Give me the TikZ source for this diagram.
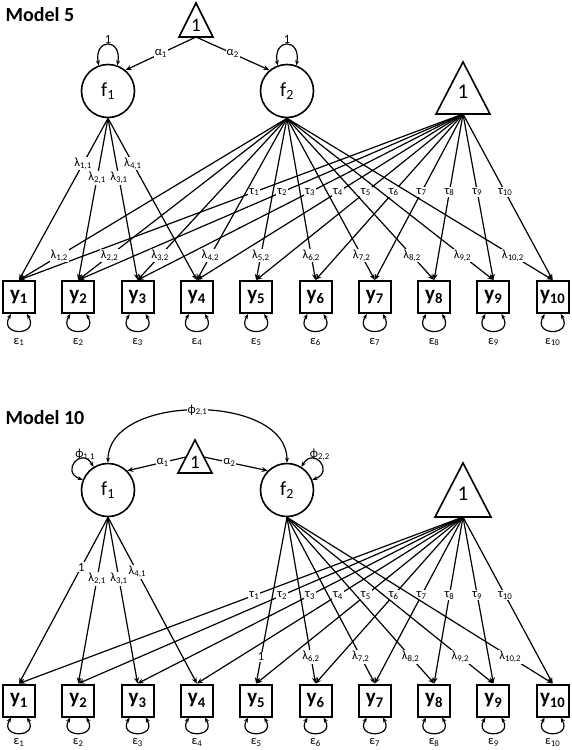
\documentclass[tikz,border=0pt]{standalone}
\usepackage{fontspec}
\setmainfont{Carlito}
\usetikzlibrary{arrows.meta}

\begin{document}
\begin{tikzpicture}[x=1pt,y=1pt,
    every node/.style={font=\fontsize{12.5}{15}\selectfont},
    latent/.style={circle,draw,line width=1.6pt,minimum size=53pt,inner sep=0pt,font=\fontsize{20}{22}\selectfont},
    manifest/.style={rectangle,draw,line width=2pt,minimum size=32pt,inner sep=0pt,font=\fontsize{21}{22}\selectfont\bfseries},
    lab/.style={fill=white,inner sep=1pt},
    load/.style={-{Stealth[length=6pt,width=5pt]},line width=1.2pt},
    resid/.style={{Stealth[length=5pt,width=4pt]}-{Stealth[length=5pt,width=4pt]},line width=1.2pt},
    const/.style={line width=1.6pt,line join=miter},
    heading/.style={anchor=west,font=\fontsize{20}{24}\selectfont\bfseries}]
  \useasboundingbox (0,0) rectangle (571,-750);

  % Model 5
  \node[heading] (head5) at (2,-15) {Model 5};
  \draw[const] (196,-3) -- (213,-37) -- (179,-37) -- cycle;
  \node[font=\fontsize{19}{20}\selectfont] (one5) at (196,-25) {1};
  \coordinate (one5b) at (196,-37);
  \draw[const] (463,-62) -- (490,-114) -- (436,-114) -- cycle;
  \node[font=\fontsize{21}{22}\selectfont] (int5) at (463,-92) {1};
  \coordinate (int5b) at (463,-114);
  \node[latent] (m5f1) at (108,-91) {f\textsubscript{1}};
  \node[latent] (m5f2) at (287,-91) {f\textsubscript{2}};
  \draw[load] (one5b) -- node[lab] (m5a1) {α\textsubscript{1}} (m5f1.50);
  \draw[load] (one5b) -- node[lab] (m5a2) {α\textsubscript{2}} (m5f2.130);
  \draw[resid] (m5f1.110) .. controls +(100:28) and +(80:28) .. (m5f1.70) node[midway,above,inner sep=1pt] (m5v1) {1};
  \draw[resid] (m5f2.110) .. controls +(100:28) and +(80:28) .. (m5f2.70) node[midway,above,inner sep=1pt] (m5v2) {1};
  \foreach \i in {1,...,10}{
    \node[manifest] (m5y\i) at ({19+(\i-1)*59.3},-297) {y\textsubscript{\i}};
    \draw[resid] ([xshift=-8pt]m5y\i.south) .. controls +(-120:26) and +(-60:26) .. ([xshift=8pt]m5y\i.south);
    \node (m5e\i) at ([yshift=-28pt]m5y\i.south) {ε\textsubscript{\i}};
  }
  \foreach \i/\p in {1/.28,2/.37,3/.37,4/.28}
    \draw[load] (m5f1.south) -- node[lab,pos=\p] (m5l\i) {λ\textsubscript{\i,1}} (m5y\i.north);
  \foreach \i in {1,...,10}
    \draw[load] (int5b) -- node[lab,pos=.47] (m5t\i) {τ\textsubscript{\i}} (m5y\i.north);
  \foreach \i in {1,...,10}
    \draw[load] (m5f2.south) -- node[lab,pos=.85] (m5k\i) {λ\textsubscript{\i,2}} (m5y\i.north);

  % Model 10
  \node[heading] (head10) at (2,-418) {Model 10};
  \draw[const] (195,-440) -- (212,-473) -- (178,-473) -- cycle;
  \node[font=\fontsize{19}{20}\selectfont] (one10) at (195,-462) {1};
  \coordinate (one10l) at (186,-457);
  \coordinate (one10r) at (204,-457);
  \draw[const] (463,-463) -- (491,-517) -- (435,-517) -- cycle;
  \node[font=\fontsize{21}{22}\selectfont] (int10) at (463,-494) {1};
  \coordinate (int10b) at (463,-517);
  \node[latent] (m10f1) at (108,-490) {f\textsubscript{1}};
  \node[latent] (m10f2) at (287,-490) {f\textsubscript{2}};
  \draw[load] (one10l) -- node[lab,pos=.4] (m10a1) {α\textsubscript{1}} (m10f1.45);
  \draw[load] (one10r) -- node[lab,pos=.4] (m10a2) {α\textsubscript{2}} (m10f2.135);
  \draw[resid] (m10f1.north) to[out=90,in=90] node[lab] (m10c) {ϕ\textsubscript{2,1}} (m10f2.north);
  \draw[resid] (m10f1.158) .. controls +(160:24) and +(120:24) .. (m10f1.122) node[midway,above,xshift=10pt,inner sep=1pt] (m10v1) {ϕ\textsubscript{1,1}};
  \draw[resid] (m10f2.22) .. controls +(20:24) and +(60:24) .. (m10f2.58) node[midway,above,inner sep=1pt] (m10v2) {ϕ\textsubscript{2,2}};
  \foreach \i in {1,...,10}{
    \node[manifest] (m10y\i) at ({19+(\i-1)*59.3},-700.5) {y\textsubscript{\i}};
    \draw[resid] ([xshift=-8pt]m10y\i.south) .. controls +(-120:24) and +(-60:24) .. ([xshift=8pt]m10y\i.south);
    \node (m10e\i) at ([yshift=-25pt]m10y\i.south) {ε\textsubscript{\i}};
  }
  \foreach \i/\p/\t in {1/.30/1,2/.37/λ\textsubscript{2,1},3/.37/λ\textsubscript{3,1},4/.33/λ\textsubscript{4,1}}
    \draw[load] (m10f1.south) -- node[lab,pos=\p] (m10l\i) {\t} (m10y\i.north);
  \foreach \i in {1,...,10}
    \draw[load] (int10b) -- node[lab,pos=.47] (m10t\i) {τ\textsubscript{\i}} (m10y\i.north);
  \foreach \i/\t in {5/1,6/λ\textsubscript{6,2},7/λ\textsubscript{7,2},8/λ\textsubscript{8,2},9/λ\textsubscript{9,2},10/λ\textsubscript{10,2}}
    \draw[load] (m10f2.south) -- node[lab,pos=.84] (m10k\i) {\t} (m10y\i.north);
\end{tikzpicture}
\end{document}
